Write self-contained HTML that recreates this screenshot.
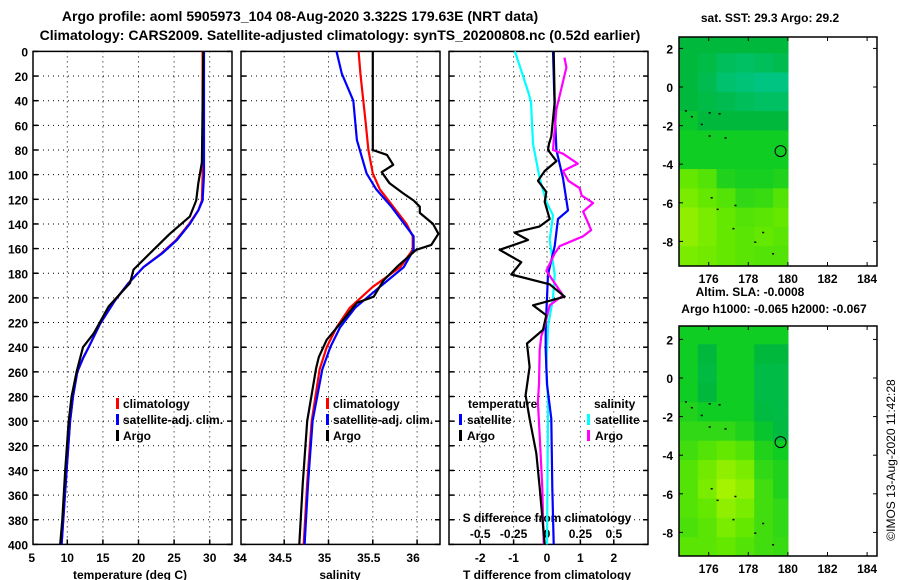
<!DOCTYPE html>
<html><head><meta charset="utf-8"><style>
body{margin:0;background:#fff}
svg{display:block;font-family:"Liberation Sans",sans-serif}
.tk{font-size:12px;font-weight:bold;fill:#000}
.tt{font-size:14px;font-weight:bold;fill:#000}
</style></head><body>
<svg id="fig" width="900" height="580" viewBox="0 0 900 580" xmlns="http://www.w3.org/2000/svg">
<text class="tt" x="300" y="21" text-anchor="middle">Argo profile: aoml 5905973_104 08-Aug-2020 3.322S 179.63E (NRT data)</text>
<text class="tt" x="340" y="40" text-anchor="middle">Climatology: CARS2009. Satellite-adjusted climatology: synTS_20200808.nc (0.52d earlier)</text>
<text class="tk" x="770" y="22" text-anchor="middle">sat. SST: 29.3 Argo: 29.2</text>
<text class="tk" x="750" y="296" text-anchor="middle">Altim. SLA: -0.0008</text>
<text class="tk" x="774" y="313" text-anchor="middle">Argo h1000: -0.065 h2000: -0.067</text>
<text x="895" y="460" font-size="12" text-anchor="middle" transform="rotate(-90 895 460)">©IMOS 13-Aug-2020 11:42:28</text>
<g id="g"></g>
</svg>
<script>
// ---- profile data ----
const tDepthArgo=[0,90,107,121,134,148,161,177,188,207,229,240,249,260,280,300,340,380,400];
const tArgo=[29.1,28.9,28.4,28.1,27.2,24.4,22.1,19.3,18.8,15.8,13.7,12.2,11.8,11.3,10.6,10.2,9.7,9.3,9.0];
const tDepthClim=[0,100,121,129,140,153,164,175,188,202,221,240,249,260,280,300,340,400];
const tSat=[29.2,29.2,29.0,28.4,27.2,25.4,23.3,20.7,18.6,16.7,14.6,13.0,12.2,11.4,10.8,10.4,9.9,9.2];
const tClim=[29.0,29.0,28.9,28.4,27.1,25.3,23.2,20.7,18.6,16.7,14.6,13.0,12.2,11.4,10.8,10.4,9.9,9.2];
const sDepthArgo=[0,80,84,92,98,107,115,121,126,131,140,148,157,161,175,186,199,204,221,234,248,257,300,350,400];
const sArgo=[35.5,35.5,35.66,35.73,35.6,35.69,35.84,35.96,36.03,36.03,36.18,36.24,36.16,35.99,35.77,35.62,35.51,35.32,35.13,34.98,34.89,34.86,34.76,34.71,34.67];
const sDepthClim=[0,18,58,80,99,112,126,140,150,161,175,191,208,224,240,258,300,350,400];
const sClim=[35.34,35.36,35.42,35.45,35.5,35.58,35.73,35.88,35.95,35.95,35.81,35.5,35.24,35.09,34.98,34.9,34.81,34.76,34.72];
const sDepthSat=[0,18,40,72,99,112,126,150,161,175,191,208,224,240,258,300,350,400];
const sSat=[35.09,35.15,35.28,35.32,35.43,35.54,35.71,35.96,35.96,35.85,35.58,35.3,35.13,35.02,34.93,34.82,34.77,34.73];
const dTSatDepth=[0,47,80,103,129,136,158,181,200,223,242,270,298,354,400];
const dTSat=[0.18,0.23,0.28,0.48,0.63,0.33,0.23,0.03,0,-0.04,-0.04,0,0.13,0.16,0.2];
const dTArgoDepth=[0,41,69,75,80,89,97,105,114,122,136,142,147,153,161,171,181,189,199,206,214,226,237,256,279,298,326,354,400];
const dTArgo=[0.2,0.23,0.13,0.06,0.03,0.28,-0.07,-0.27,-0.02,-0.07,0.08,-0.22,-0.97,-0.57,-1.42,-0.77,-1.07,0.08,0.53,-0.42,-0.02,-0.12,-0.6,-0.52,-0.64,-0.52,-0.32,-0.22,-0.07];
const dSSatDepth=[0,33,41,75,103,122,133,153,181,200,223,256,284,400];
const dSSat=[-0.24,-0.14,-0.12,-0.105,-0.055,-0.005,0.045,0.02,0.058,0.045,0.008,-0.005,0.008,0];
const dSArgoDepth=[5,13,47,80,83,91,97,105,111,117,123,130,136,145,150,158,164,178,186,198,206,223,231,242,270,284,312,354,400];
const dSArgo=[0.13,0.145,0.07,0.045,0.12,0.23,0.12,0.16,0.245,0.26,0.345,0.27,0.295,0.33,0.27,0.095,0.058,-0.005,0.045,0.12,0.02,-0.018,-0.043,-0.055,-0.06,-0.068,-0.055,-0.035,-0.025];
const depthTicks=[0,20,40,60,80,100,120,140,160,180,200,220,240,260,280,300,320,340,360,380,400];
const tTicks=[5,10,15,20,25,30,34];
const sTicks=[34,34.5,35,35.5,36];
const dTTicks=[-2,-1,0,1,2];
const dSTicks=[-0.5,-0.25,0,0.25,0.5];
// ---- map data (rows: lat 2.75 -> -9.25 step 1, cols lon 174.55 -> 180.2) ----
const sstGrid=[
[.45,.45,.45,.45,.45,.45],[.45,.4,.3,.25,.3,.35],[.45,.35,.2,.15,.1,.1],[.45,.4,.35,.3,.25,.25],
[.48,.45,.45,.45,.45,.45],[.5,.5,.5,.5,.5,.5],[.5,.5,.5,.5,.5,.5],[.75,.7,.55,.52,.52,.55],
[.8,.75,.7,.6,.62,.7],[.85,.8,.75,.7,.72,.75],[.85,.8,.75,.72,.75,.72],[.8,.78,.75,.72,.7,.7]];
const slaGrid=[
[.5,.5,.5,.5,.5,.5],[.5,.45,.5,.5,.45,.45],[.5,.42,.5,.5,.4,.4],[.5,.45,.5,.5,.4,.4],
[.55,.5,.5,.5,.42,.4],[.6,.6,.6,.55,.48,.42],[.65,.7,.75,.7,.55,.5],[.7,.78,.85,.8,.6,.55],
[.7,.8,.9,.85,.65,.55],[.7,.75,.85,.8,.65,.6],[.68,.72,.8,.75,.65,.6],[.72,.72,.75,.7,.65,.62]];
const lonTicks=[176,178,180,182,184];
const latTicks=[2,0,-2,-4,-6,-8];
const islandLon=[174.8,175.1,175.6,176.0,176.5,176.8,176.0,176.1,176.4,177.3,177.2,178.3,178.7,179.2];
const islandLat=[-1.2,-1.5,-1.9,-1.3,-1.35,-2.6,-2.5,-5.7,-6.3,-6.1,-7.3,-8.0,-7.5,-8.6];
const argoLon=179.63, argoLat=-3.322;

const NS="http://www.w3.org/2000/svg";
const G=document.getElementById('g');
function el(t,a,p){const e=document.createElementNS(NS,t);for(const k in a)e.setAttribute(k,a[k]);(p||G).appendChild(e);return e;}
const yD=d=>51.4+d*1.2325;
const xT=v=>31.7+(v-5)*7.12;
const xS=v=>328.5+(v-35)*88.6;
const xDT=v=>547+v*33.4;
const xDS=v=>547+v*4*33.4;

function panel(name,x0,x1,gridX,showY){
  const g=el('g',{});
  
  
  depthTicks.forEach(d=>{
    const y=yD(d);
    if(d>0&&d<400){const l=el('line',{x1:x0,x2:x1,y1:y,y2:y,stroke:'#000','stroke-width':1,'stroke-dasharray':'1 4'},g);
      }
    el('line',{x1:x0,x2:x0+5,y1:y,y2:y,stroke:'#000','stroke-width':1.5},g);
    el('line',{x1:x1-5,x2:x1,y1:y,y2:y,stroke:'#000','stroke-width':1.5},g);
    if(showY){const t=el('text',{x:28,y:y+5,'text-anchor':'end',class:'tk'},g);t.textContent=d;
      }
  });
  gridX.forEach(x=>{
    if(x>x0+2&&x<x1-2){const l=el('line',{x1:x,x2:x,y1:yD(0),y2:yD(400),stroke:'#000','stroke-width':1,'stroke-dasharray':'1 4'},g);
      }
    el('line',{x1:x,x2:x,y1:yD(400)-5,y2:yD(400),stroke:'#000','stroke-width':1.5},g);
  });
  const r=el('rect',{x:x0,y:yD(0),width:x1-x0,height:yD(400)-yD(0),fill:'none',stroke:'#000','stroke-width':1.5},g);
  
}
function line(name,xs,ds,fx,color){
  const pts=xs.map((v,i)=>fx(v).toFixed(1)+','+yD(ds[i]).toFixed(1)).join(' ');
  const p=el('polyline',{points:pts,fill:'none',stroke:color,'stroke-width':2.2,'stroke-linejoin':'round'});
  
  
}
function txt(name,s,x,y,anchor,cls){
  const t=el('text',{x:x,y:y,'text-anchor':anchor||'middle',class:cls||'tk'});t.textContent=s;
  
  
}
function mark(name,x,y,c){
  const r=el('rect',{x:x,y:y-10,width:3,height:11,fill:c});
  
  
}
// panel 1
panel('temperature-panel',33,232,tTicks.slice(1,6).map(xT),true);
tTicks.forEach(v=>txt('x-tick-label',String(v),v===34?240:xT(v),562));
txt('x-axis-title','temperature (deg C)',130,579);
line('temp-climatology',tClim,tDepthClim,xT,'#ff0000');
line('temp-satellite-adj',tSat,tDepthClim,xT,'#0000ff');
line('temp-argo',tArgo,tDepthArgo,xT,'#000000');
mark('legend-marker-clim',116,408,'#f00');txt('legend-clim','climatology',123,408,'start');
mark('legend-marker-sat',116,424,'#00f');txt('legend-sat','satellite-adj. clim.',123,424,'start');
mark('legend-marker-argo',116,440,'#000');txt('legend-argo','Argo',123,440,'start');
// panel 2
panel('salinity-panel',241,440,sTicks.slice(1).map(xS),false);
sTicks.forEach(v=>txt('x-tick-label',String(v),v===34?240:xS(v)-4,562));
txt('x-axis-title','salinity',340,579);
line('sal-climatology',sClim,sDepthClim,xS,'#ff0000');
line('sal-satellite-adj',sSat,sDepthSat,xS,'#0000ff');
line('sal-argo',sArgo,sDepthArgo,xS,'#000000');
mark('legend-marker-clim',326,408,'#f00');txt('legend-clim','climatology',333,408,'start');
mark('legend-marker-sat',326,424,'#00f');txt('legend-sat','satellite-adj. clim.',333,424,'start');
mark('legend-marker-argo',326,440,'#000');txt('legend-argo','Argo',333,440,'start');
// panel 3
panel('difference-panel',449,648,dTTicks.map(xDT),false);
dTTicks.forEach(v=>txt('x-tick-label',String(v),xDT(v),562));
txt('x-axis-title','T difference from climatology',547,579);
dSTicks.forEach(v=>txt('s-tick-label',String(v),xDS(v),538));
txt('s-axis-title','S difference from climatology',547,522);
line('sal-diff-satellite',dSSat,dSSatDepth,xDS,'#00ffff');
line('temp-diff-satellite',dTSat,dTSatDepth,xDT,'#0000ff');
line('sal-diff-argo',dSArgo,dSArgoDepth,xDS,'#ff00ff');
line('temp-diff-argo',dTArgo,dTArgoDepth,xDT,'#000000');
txt('legend-temperature-head','temperature',468,408,'start');
mark('legend-marker-tsat',459,424,'#00f');txt('legend-tsat','satellite',467,424,'start');
mark('legend-marker-targo',459,440,'#000');txt('legend-targo','Argo',467,440,'start');
txt('legend-salinity-head','salinity',594,408,'start');
mark('legend-marker-ssat',587,424,'#0ff');txt('legend-ssat','satellite',595,424,'start');
mark('legend-marker-sargo',587,440,'#f0f');txt('legend-sargo','Argo',595,440,'start');

// maps
function cmap(v){
  const stops=[[0,[0,200,150]],[0.45,[0,185,60]],[0.5,[15,205,35]],[0.75,[100,232,0]],[1,[210,250,0]]];
  for(let i=1;i<stops.length;i++){if(v<=stops[i][0]){const a=stops[i-1],b=stops[i],t=(v-a[0])/(b[0]-a[0]);
    return 'rgb('+a[1].map((c,k)=>Math.round(c+(b[1][k]-c)*t)).join(',')+')';}}
  return 'rgb(210,250,0)';
}
const xL=lon=>679+(lon-174.5)*19.8;
function map(name,grid,top,bot,lat0y){
  const yL=lat=>lat0y-lat*19.3;
  const g=el('g',{});
  
  
  const lonEdges=[174.5,175.45,176.4,177.35,178.3,179.25,180.45];
  grid.forEach((row,r)=>{
    const la0=2.75-r, la1=la0-1;
    row.forEach((v,c)=>{
      const y0=Math.max(top,yL(la0)), y1=Math.min(bot-1,yL(la1));
      const x0=xL(lonEdges[c]), x1=Math.min(xL(lonEdges[c+1]),788);
      const cell=el('rect',{x:x0,y:y0,width:x1-x0+0.5,height:y1-y0+0.5,fill:cmap(v)},g);
      
      
    });
  });
  islandLon.forEach((lo,i)=>{el('rect',{x:xL(lo),y:yL(islandLat[i]),width:2,height:1.5,fill:'#000'},g);});
  const c=el('circle',{cx:xL(argoLon),cy:yL(argoLat),r:5.5,fill:'none',stroke:'#000','stroke-width':1},g);
  
  
  el('rect',{x:679,y:top,width:198,height:bot-top,fill:'none',stroke:'#000','stroke-width':1.5},g);
  lonTicks.forEach(lo=>{const x=xL(lo);
    el('line',{x1:x,x2:x,y1:bot,y2:bot-4,stroke:'#000'},g);el('line',{x1:x,x2:x,y1:top,y2:top+4,stroke:'#000'},g);
    txt('map-lon-label',String(lo),x,bot+17);});
  latTicks.forEach(la=>{const y=yL(la);
    el('line',{x1:679,x2:683,y1:y,y2:y,stroke:'#000'},g);el('line',{x1:873,x2:877,y1:y,y2:y,stroke:'#000'},g);
    txt('map-lat-label',String(la),673,y+5,'end');});
}
map('sst-map',sstGrid,37,266,87);
map('sla-map',slaGrid,326,556,378);
</script>
</body></html>
